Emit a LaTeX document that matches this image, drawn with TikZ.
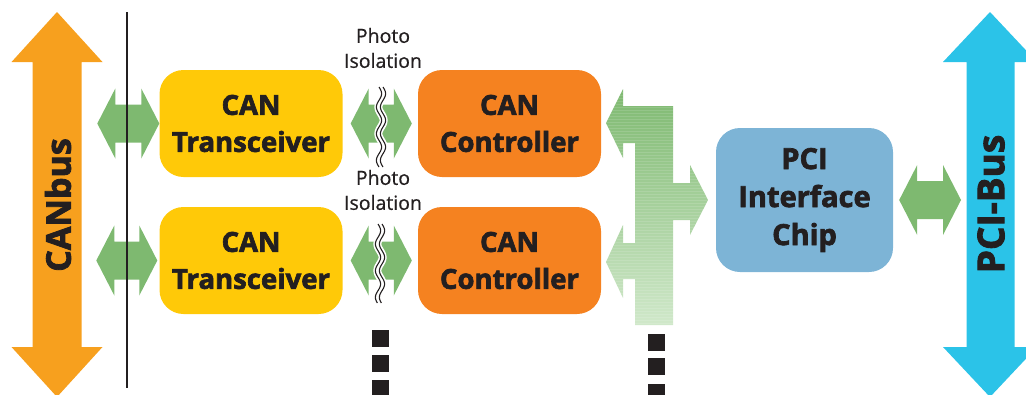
\documentclass[tikz,border=0pt]{standalone}
\usepackage{fontspec}
\setmainfont{Open Sans}[BoldFeatures={FakeBold=2.4}]
\newfontfamily\labelfont{Open Sans}[FakeBold=0.6]
\usetikzlibrary{calc}

\definecolor{busorange}{RGB}{247,160,30}
\definecolor{canyellow}{RGB}{255,201,8}
\definecolor{ctrlorange}{RGB}{245,130,32}
\definecolor{linkgreen}{RGB}{126,185,112}
\definecolor{linkpale}{RGB}{208,232,202}
\definecolor{chipblue}{RGB}{125,180,214}
\definecolor{pcicyan}{RGB}{43,195,232}
\definecolor{ink}{RGB}{35,31,32}

% fat double-headed arrow between two points at the same height
\newcommand\linkarrow[2]{%
  \fill[linkgreen] let \p1=(#1), \p2=(#2) in
    (\x1,\y1) -- (\x1+18pt,\y1+35pt) -- (\x1+18pt,\y1+19pt)
    -- (\x2-18pt,\y1+19pt) -- (\x2-18pt,\y1+35pt) -- (\x2,\y1)
    -- (\x2-18pt,\y1-35pt) -- (\x2-18pt,\y1-19pt)
    -- (\x1+18pt,\y1-19pt) -- (\x1+18pt,\y1-35pt) -- cycle;}

% wavy double line marking the galvanic isolation
\newcommand\isowave[3]{% x centre, top y, bottom y
  \draw[white, line width=8pt]
    plot[domain=#2:#3, samples=70, smooth] ({#1+2.6*sin((\x-#2)*13.5)}, \x);
  \draw[ink, line width=1.1pt]
    plot[domain=#2:#3, samples=70, smooth] ({#1-2+2.6*sin((\x-#2)*13.5)}, \x);
  \draw[ink, line width=1.1pt]
    plot[domain=#2:#3, samples=70, smooth] ({#1+2+2.6*sin((\x-#2)*13.5)}, \x);}

\tikzset{
  box/.style={rounded corners=24pt, minimum width=183pt, minimum height=107pt,
    align=center, inner sep=0pt, text=ink,
    font=\bfseries\fontsize{27.5}{37}\selectfont},
  buslabel/.style={rotate=90, text=ink, inner sep=0pt},
  isolabel/.style={align=center, text=ink, inner sep=0pt,
    font=\labelfont\fontsize{19.5}{25}\selectfont},
  dotsq/.style={fill=ink}
}

\begin{document}
\begin{tikzpicture}[x=1pt, y=-1pt]
\useasboundingbox (0,0) rectangle (1026,394);

% ---- CAN bus (left) ----
\fill[busorange] (57,12) -- (102.5,62) -- (81.5,62) -- (81.5,347) -- (102.5,347)
  -- (57,397) -- (11.5,347) -- (32.5,347) -- (32.5,62) -- (11.5,62) -- cycle;
\node[buslabel, font=\bfseries\fontsize{34}{34}\selectfont] (canbus) at (58,205) {CANbus};

% ---- PCI bus (right) ----
\fill[pcicyan] (990,12) -- (1037,62) -- (1014.5,62) -- (1014.5,347) -- (1037,347)
  -- (990,397) -- (943,347) -- (966.5,347) -- (966.5,62) -- (943,62) -- cycle;
\node[buslabel, font=\bfseries\fontsize{37}{37}\selectfont] (pcibus) at (991,204) {PCI-Bus};
\coordinate (pcibusL) at (961,200);

% ---- blocks ----
\node[box, fill=canyellow] (t1) at (251,123.5) {CAN\\Transceiver};
\node[box, fill=canyellow] (t2) at (251,260.5) {CAN\\Transceiver};
\node[box, fill=ctrlorange] (c1) at (509.5,123.5) {CAN\\Controller};
\node[box, fill=ctrlorange] (c2) at (509.5,260.5) {CAN\\Controller};
\node[box, fill=chipblue, minimum width=177pt, minimum height=144pt,
  font=\bfseries\fontsize{29}{38}\selectfont]
  (pci) at (804.5,200) {PCI\\Interface\\Chip};

% ---- links to the CAN bus ----
\linkarrow{[xshift=-62pt]t1.west}{t1.west}
\linkarrow{[xshift=-63pt]t2.west}{[xshift=-2pt]t2.west}

% ---- isolated links transceiver <-> controller ----
\linkarrow{[xshift=8pt]t1.east}{[xshift=-6pt]c1.west}
\linkarrow{[xshift=8pt]t2.east}{[xshift=-6pt]c2.west}
\isowave{381}{87}{167}
\isowave{380}{224}{303}
\node[isolabel] (iso1) at (383,48) {Photo\\Isolation};
\node[isolabel] (iso2) at (383,190) {Photo\\Isolation};

% ---- local bus from the controllers to the PCI chip ----
\def\localbus{(606,123) -- (623,89) -- (623,106) -- (673,106) -- (673,183)
  -- (690,183) -- (690,165) -- (708,200) -- (690,235) -- (690,220) -- (673,220)
  -- (673,325) -- (635,325) -- (635,279) -- (623,279) -- (623,298) -- (606,262)
  -- (623,225) -- (623,243) -- (635,243) -- (635,143) -- (623,143) -- (623,158)
  -- cycle}
\shade[top color=linkgreen, bottom color=linkpale] \localbus;
\begin{scope}
  \clip \localbus;
  \foreach \yy in {89,92,...,326}
    \draw[white, opacity=0.13, line width=0.7pt] (600,\yy) -- (712,\yy);
\end{scope}

% ---- link PCI chip <-> PCI bus ----
\linkarrow{[xshift=6pt]pci.east}{pcibusL}

% ---- separator line ----
\coordinate (sepT) at (127,12);
\coordinate (sepB) at (127,388);
\draw[ink, line width=1.6pt] (sepT) -- (sepB);

% ---- continuation marks ----
\foreach \yy in {330,355,380}
  \fill[dotsq] (372,\yy) rectangle (389,\yy+17);
\foreach \yy in {334,358,384}
  \fill[dotsq] (648,\yy) rectangle (665,\yy+17);
\end{tikzpicture}
\end{document}
